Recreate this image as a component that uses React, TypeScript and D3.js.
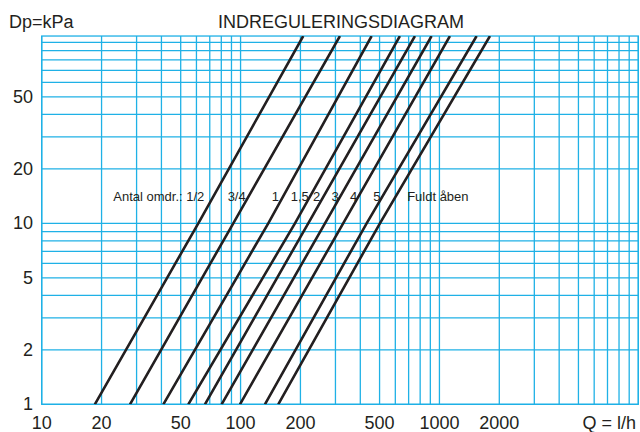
import React from "react";
import * as d3 from "d3";

const W = 640;
const H = 432;

// Q (l/h) values where each curve crosses Dp = 1, 10 and the top of the frame (~108 kPa)
const dpLevels = [1, 10, 108.3];
const curveNames = ["1/2", "3/4", "1", "1,5", "2", "3", "4", "5", "Fuldt åben"];
const qHalf = [18.5, 61.3, 206.6];
const qThreeQuarter = [27.8, 91.9, 316];
const qOne = [40.9, 137.8, 456];
const qOneHalf = [54.6, 187.7, 632.5];
const qTwo = [66.2, 218.9, 753];
const qThree = [80.3, 265.7, 913];
const qFour = [99.3, 328, 1129];
const qFive = [132.6, 430.5, 1538];
const qOpen = [154.7, 502, 1795];
const curves = [qHalf, qThreeQuarter, qOne, qOneHalf, qTwo, qThree, qFour, qFive, qOpen];

const xTickLabels = [10, 20, 50, 100, 200, 500, 1000, 2000];
const yTickLabels = [1, 2, 5, 10, 20, 50];

// label row: Q value at the left edge of each text
const labelTexts = ["Antal omdr.: 1/2", "3/4", "1", "1,5", "2", "3", "4", "5", "Fuldt åben"];
const labelQ = [22.9, 86.1, 143.3, 178.6, 231, 287, 354.8, 464.5, 688];
const labelDp = 14.1;

const FONT = "'Liberation Sans', Arial, Helvetica, sans-serif";
const GRID = "#1fb1e6";

export default function App() {
  const x = d3.scaleLog().domain([10, 10000]).range([41.7, 638.3]);
  const y = d3.scaleLog().domain([1, 100]).range([404.3, 42.3]);
  const topDp = 108.3;
  const left = x(10), right = x(10000), top = y(topDp), bottom = y(1);

  const vGrid: number[] = [];
  [10, 100, 1000].forEach((d) => {
    for (let k = 1; k <= 9; k++) vGrid.push(d * k);
  });
  vGrid.push(10000);
  const hGrid: number[] = [];
  [1, 10].forEach((d) => {
    for (let k = 1; k <= 9; k++) hGrid.push(d * k);
  });
  hGrid.push(100);

  const line = d3
    .line<[number, number]>()
    .x((d) => x(d[0]))
    .y((d) => y(d[1]));

  return (
    <svg
      width={W}
      height={H}
      style={{ position: "absolute", left: 0, top: 0, background: "#fff" }}
      fontFamily={FONT}
    >
      <defs>
        <clipPath id="plot">
          <rect x={left} y={top} width={right - left} height={bottom - top} />
        </clipPath>
      </defs>
      <rect x={0} y={0} width={W} height={H} fill="#fff" />
      <g stroke={GRID} strokeWidth={1.3} fill="none">
        {vGrid.map((v) => (
          <line key={"v" + v} x1={x(v)} x2={x(v)} y1={top} y2={bottom} />
        ))}
        {hGrid.map((v) => (
          <line key={"h" + v} x1={left} x2={right} y1={y(v)} y2={y(v)} />
        ))}
        <rect x={left} y={top} width={right - left} height={bottom - top} />
      </g>
      <g clipPath="url(#plot)" fill="none" stroke="#231f20" strokeWidth={2.6}>
        {curves.map((c, i) => (
          <path
            key={curveNames[i]}
            d={line(c.map((q, j) => [q, dpLevels[j]] as [number, number])) || ""}
          />
        ))}
      </g>
      <g fontSize={13} fill="#231f20">
        {labelTexts.map((t, i) => (
          <text key={t} x={x(labelQ[i])} y={y(labelDp) + 4.5}>
            {t}
          </text>
        ))}
      </g>
      <g fontSize={18} fill="#231f20">
        {yTickLabels.map((v) => (
          <text key={"y" + v} x={33} y={y(v)} textAnchor="end" dominantBaseline="central">
            {v}
          </text>
        ))}
        {xTickLabels.map((v) => (
          <text key={"x" + v} x={x(v)} y={429} textAnchor="middle">
            {v}
          </text>
        ))}
        <text x={636} y={429} textAnchor="end">
          Q = l/h
        </text>
        <text x={9} y={28}>
          Dp=kPa
        </text>
        <text x={341} y={28} textAnchor="middle">
          INDREGULERINGSDIAGRAM
        </text>
      </g>
    </svg>
  );
}
